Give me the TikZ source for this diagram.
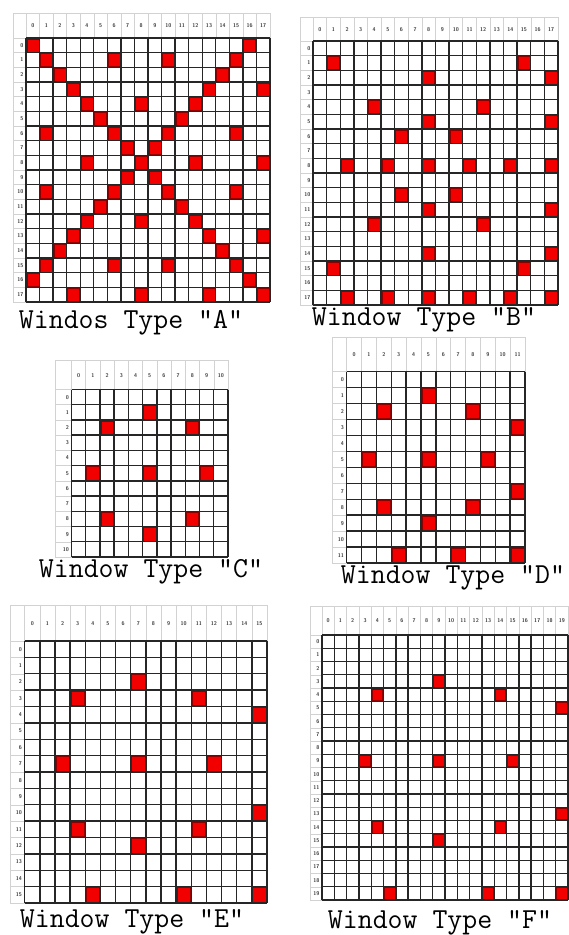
\documentclass[tikz,border=0pt]{standalone}
\usepackage{tikz}
\tikzset{
  hdr/.style={draw=gray!35, line width=0.5pt},
  gline/.style={draw=black!85, line width=1.4pt},
  redcell/.style={fill=red!95!black, draw=red!55!black, line width=0.5pt},
  num/.style={font=\fontsize{5.5}{6}\selectfont\sffamily\bfseries, text=black!75, inner sep=0pt},
  lab/.style={font=\fontsize{29}{30}\selectfont\ttfamily, inner sep=0pt, anchor=base},
}
% #1 x0, #2 y0, #3 x1, #4 y1, #5 hx, #6 hy, #7 n, #8 red list row/col, #9 prefix
\newcommand\wingrid[9]{%
  \pgfmathsetmacro\wgcw{(#3-#1)/#7}%
  \pgfmathsetmacro\wgch{(#4-#2)/#7}%
  \foreach \i in {0,...,#7} {
    \draw[hdr] ({#1+\i*\wgcw},#6) -- ({#1+\i*\wgcw},#2);
    \draw[hdr] (#5,{#2+\i*\wgch}) -- (#1,{#2+\i*\wgch});
  }
  \draw[hdr] (#5,#6) -- (#3,#6);
  \draw[hdr] (#5,#6) -- (#5,#4);
  \foreach \i in {1,...,#7} {
    \pgfmathtruncatemacro\wgk{\i-1}
    \node[num] (#9c\i) at ({#1+(\i-0.5)*\wgcw},{(#6+#2)/2+0.5}) {\wgk};
    \node[num, anchor=east] (#9r\i) at ({#1-2.5},{#2+(\i-0.5)*\wgch}) {\wgk};
  }
  \foreach \r/\c in {#8} {
    \draw[redcell] ({#1+\c*\wgcw+0.8},{#2+\r*\wgch+0.8}) rectangle ({#1+(\c+1)*\wgcw-0.8},{#2+(\r+1)*\wgch-0.8});
  }
  \foreach \i in {0,...,#7} {
    \draw[gline] ({#1+\i*\wgcw},#2) -- ({#1+\i*\wgcw},#4);
    \draw[gline] (#1,{#2+\i*\wgch}) -- (#3,{#2+\i*\wgch});
  }
}
\begin{document}
\begin{tikzpicture}[x=1pt,y=-1pt]
\useasboundingbox (0,0) rectangle (569,935);
\fill[white] (0,0) rectangle (569,935);

\wingrid{26}{38}{270}{302}{13}{13}{18}{0/0,0/16,1/1,1/6,1/10,1/15,2/2,2/14,3/3,3/13,3/17,4/4,4/8,4/12,5/5,5/11,6/1,6/6,6/10,6/15,7/7,7/9,8/4,8/8,8/12,8/17,9/7,9/9,10/1,10/6,10/10,10/15,11/5,11/11,12/4,12/8,12/12,13/3,13/13,13/17,14/2,14/14,15/1,15/6,15/10,15/15,16/0,16/16,17/3,17/8,17/13,17/17}{A}
\node[lab] (labA) at (131,328) {Windos Type "A"};

\wingrid{313}{41}{558}{305}{300}{17}{18}{1/1,1/15,2/8,2/17,4/4,4/12,5/8,5/17,6/6,6/10,8/2,8/5,8/8,8/11,8/14,8/17,10/6,10/10,11/8,11/17,12/4,12/12,14/8,14/17,15/1,15/15,17/2,17/5,17/8,17/11,17/14,17/17}{B}
\node[lab] (labB) at (424,325) {Window Type "B"};

\wingrid{71.5}{389.5}{228}{557}{55}{360}{11}{1/5,2/2,2/8,5/1,5/5,5/9,8/2,8/8,9/5}{C}
\node[lab] (labC) at (151,577) {Window Type "C"};

\wingrid{346.7}{371.7}{525}{563}{332}{337}{12}{1/5,2/2,2/8,3/11,5/1,5/5,5/9,7/11,8/2,8/8,9/5,11/3,11/7,11/11}{D}
\node[lab] (labD) at (453,583) {Window Type "D"};

\wingrid{24.7}{641}{267}{903}{10}{605}{16}{2/7,3/3,3/11,4/15,7/2,7/7,7/12,10/15,11/3,11/11,12/7,15/4,15/10,15/15}{E}
\node[lab] (labE) at (132,927) {Window Type "E"};

\wingrid{322}{635}{568}{900}{310}{606}{20}{3/9,4/4,4/14,5/19,9/3,9/9,9/15,13/19,14/4,14/14,15/9,19/5,19/13,19/19}{F}
\node[lab] (labF) at (440,928) {Window Type "F"};
\end{tikzpicture}
\end{document}
